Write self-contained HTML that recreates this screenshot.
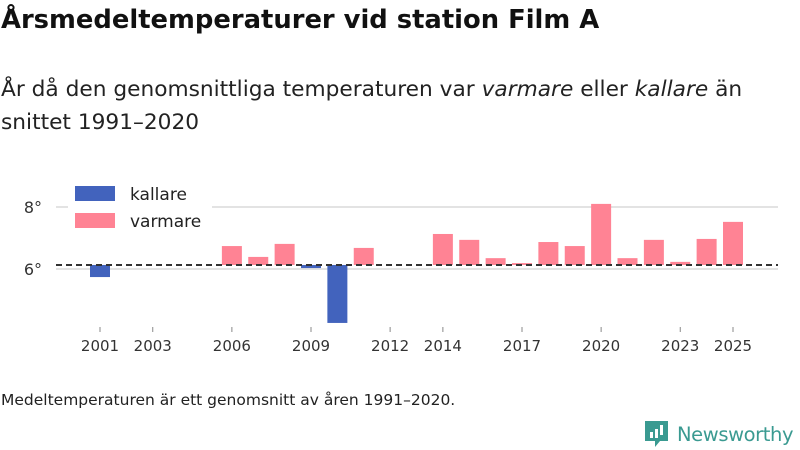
<!DOCTYPE html>
<html><head><meta charset="utf-8">
<style>
body{margin:0;width:800px;height:450px;background:#fff;font-family:"Liberation Sans","DejaVu Sans",sans-serif;overflow:hidden;position:relative}
#title{position:absolute;left:1px;top:5px;font-size:25.8px;font-weight:bold;color:#111;font-family:"DejaVu Sans",sans-serif;white-space:nowrap}
#sub{position:absolute;left:1px;top:73px;font-size:21.7px;color:#222;line-height:33px;font-family:"DejaVu Sans",sans-serif;white-space:nowrap}
#note{position:absolute;left:1px;top:391px;font-size:15.5px;color:#222;font-family:"DejaVu Sans",sans-serif;white-space:nowrap}
svg text{font-family:"DejaVu Sans",sans-serif}
</style></head><body>
<div id="title">Årsmedeltemperaturer vid station Film A</div>
<div id="sub">År då den genomsnittliga temperaturen var <i>varmare</i> eller <i>kallare</i> än<br>snittet 1991–2020</div>
<svg id="chart" width="800" height="450" style="position:absolute;left:0;top:0">
<g id="grid"></g><g id="bars"></g><g id="axes"></g><g id="legend"></g>
</svg>
<div id="note">Medeltemperaturen är ett genomsnitt av åren 1991–2020.</div>
<div style="position:absolute;left:645px;top:419px;display:flex;align-items:center;white-space:nowrap">
<svg width="24" height="30"><path d="M0 2h23v20h-8l-5 6v-6H0z" fill="#3a9a91"/><rect x="5" y="13" width="3" height="6" fill="#fff"/><rect x="10" y="10" width="3" height="9" fill="#fff"/><rect x="15" y="6" width="3" height="10" fill="#fff"/></svg>
<span style="color:#3a9a91;font-size:19.5px;margin-left:8px;font-family:'DejaVu Sans',sans-serif;letter-spacing:-0.4px">Newsworthy</span></div>
<script>
const years=[2001,2002,2003,2004,2005,2006,2007,2008,2009,2010,2011,2012,2013,2014,2015,2016,2017,2018,2019,2020,2021,2022,2023,2024,2025];
const temps=[5.74,null,null,null,null,6.74,6.39,6.81,6.03,4.26,6.68,null,null,7.13,6.94,6.35,6.19,6.87,6.74,8.10,6.35,6.94,6.23,6.97,7.52];
const baseline=6.13;
const yTicks=[6,8];
const xTicks=[2001,2003,2006,2009,2012,2014,2017,2020,2023,2025];
const NS="http://www.w3.org/2000/svg";
const x=y=>100+(y-2001)*26.375;
const yS=v=>269-(v-6)*31;
function mk(t,a,p){const e=document.createElementNS(NS,t);for(const k in a)e.setAttribute(k,a[k]);p.appendChild(e);return e;}
const grid=document.getElementById('grid'),bars=document.getElementById('bars'),axes=document.getElementById('axes'),leg=document.getElementById('legend');
yTicks.forEach(v=>{
 const l=mk('line',{x1:56,x2:778,y1:yS(v),y2:yS(v),stroke:'#e3e3e3','stroke-width':2},grid);
 
 
 const t=mk('text',{x:42,y:yS(v)+6,'text-anchor':'end','font-size':16,fill:'#333'},axes);
 t.textContent=v+'°';
 
 
});
years.forEach((yr,i)=>{
 const v=temps[i]; if(v==null)return;
 const y0=yS(baseline),y1=yS(v);
 const r=mk('rect',{x:x(yr)-10,width:20,y:Math.min(y0,y1),height:Math.abs(y1-y0),fill:v<baseline?'#4263bd':'#ff8394'},bars);
 
 
});
const d=mk('line',{x1:56,x2:778,y1:yS(baseline),y2:yS(baseline),stroke:'#333','stroke-width':2,'stroke-dasharray':'6,4'},axes);


xTicks.forEach(yr=>{
 mk('line',{x1:x(yr),x2:x(yr),y1:327,y2:332,stroke:'#888'},axes);
 const t=mk('text',{x:x(yr),y:351,'text-anchor':'middle','font-size':15,fill:'#333'},axes);
 t.textContent=yr;
 
 
});
mk('rect',{x:68,y:180,width:144,height:53,fill:'#fff'},leg);
[['kallare','#4263bd',186],['varmare','#ff8394',213]].forEach(([n,c,y])=>{
 const s=mk('rect',{x:75,y:y,width:40,height:15,fill:c},leg);
 
 
 const t=mk('text',{x:130,y:y+14,'font-size':17,fill:'#222'},leg);
 t.textContent=n;
 
 
});
</script>
</body></html>
